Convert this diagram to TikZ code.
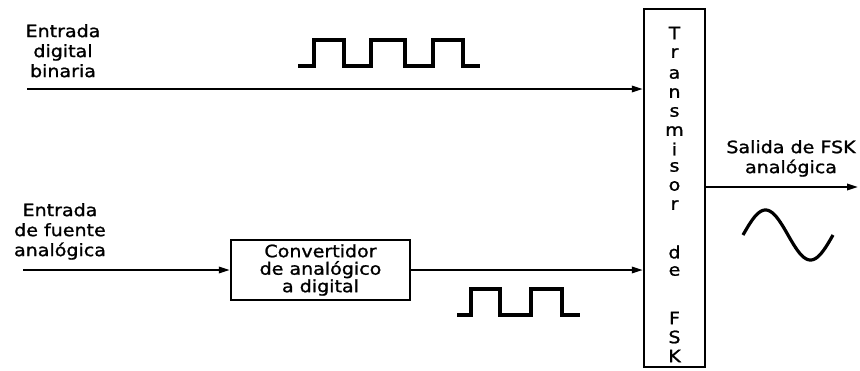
\documentclass[tikz,border=0pt]{standalone}
\usepackage{fontspec}
\setmainfont{DejaVu Sans}[FakeStretch=1.12,FakeBold=1.2]
\usetikzlibrary{arrows.meta}
\begin{document}
\begin{tikzpicture}[x=1pt,y=-1pt,
  lbl/.style={font=\fontsize{17}{20}\selectfont, align=center, inner sep=0pt},
  letter/.style={font=\fontsize{17}{20}\selectfont, inner sep=0pt},
  blk/.style={draw, line width=2.4pt, inner sep=0pt},
  conn/.style={line width=1.8pt, -{Triangle[length=11pt,width=6.5pt]}},
  wave/.style={line width=3.2pt, line join=miter}]
\useasboundingbox (0,0) rectangle (860,370);
\fill[white] (0,0) rectangle (860,370);

% blocks
\node[blk, minimum width=179pt, minimum height=60pt,
      font=\fontsize{17}{17.5}\selectfont, align=center] (adc) at (320.5,270)
      {Convertidor\\de analógico\\a digital};
\node[blk, minimum width=61pt, minimum height=358pt] (tx) at (674.5,188) {};

% vertical text inside the transmitter
\foreach \ch/\yy [count=\i] in {T/33,r/53,a/74,n/93,s/112,m/131,i/149,s/167,o/186,r/205,d/252,e/271,F/318,S/337,K/356}
  \node[letter] (ch\i) at (674.5,\yy) {\ch};

% labels
\node[lbl, anchor=north] (in1) at (63,24) {Entrada\\digital\\binaria};
\node[lbl, anchor=north] (in2) at (60,203) {Entrada\\de fuente\\analógica};
\node[lbl, anchor=north] (outl) at (791,140) {Salida de FSK\\analógica};

% free ends
\coordinate (s1) at (27,89);
\coordinate (s2) at (23,270);
\coordinate (o1) at (858,187);

% connectors
\draw[conn] (s1) -- (s1 -| tx.west);
\draw[conn] (s2) -- (adc.west);
\draw[conn] (adc.east) -- (adc.east -| tx.west);
\draw[conn] (tx.east |- o1) -- (o1);

% waveforms
\draw[wave] (298,66) -- (314,66) -- (314,40) -- (344,40) -- (344,66) -- (371,66)
  -- (371,40) -- (405,40) -- (405,66) -- (433,66) -- (433,40) -- (463,40)
  -- (463,66) -- (480,66);
\draw[wave] (457,315) -- (471,315) -- (471,289) -- (500,289) -- (500,315)
  -- (531,315) -- (531,289) -- (562,289) -- (562,315) -- (580,315);
\draw[line width=3.2pt] plot[domain=0:360,samples=73,smooth]
  ({743+\x/4},{235-25*sin(\x)});
\end{tikzpicture}
\end{document}
